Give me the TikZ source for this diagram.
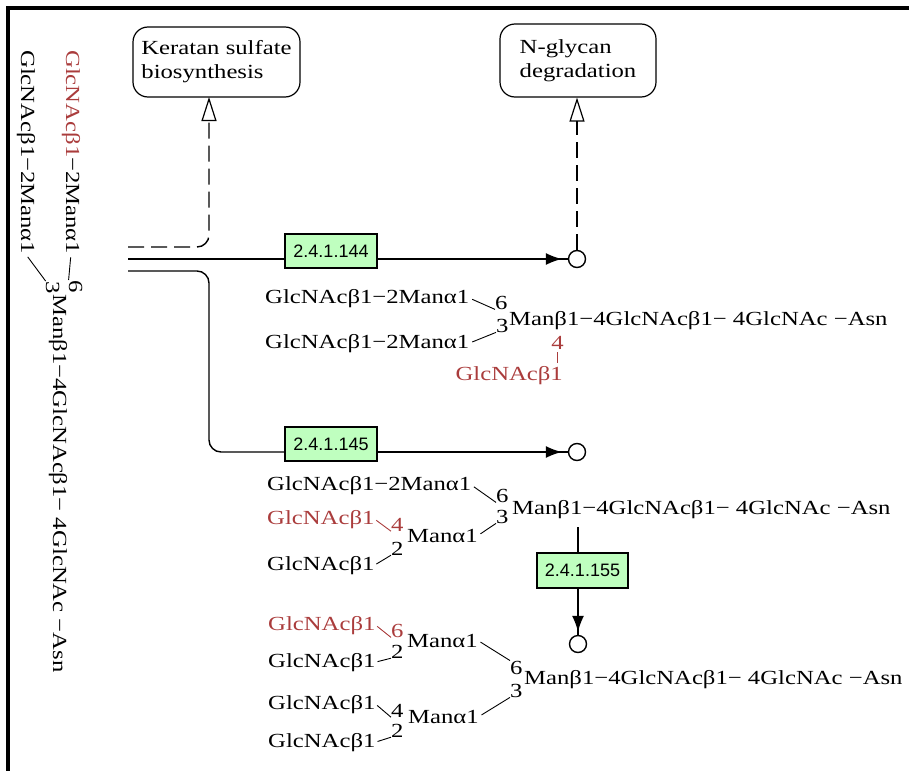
\documentclass[tikz,border=0pt]{standalone}
\usepackage{fontspec}
\setmainfont[FakeStretch=1.235]{Liberation Serif}
\newfontfamily\ecfont{Liberation Sans}
\usetikzlibrary{arrows.meta}
\definecolor{ecgreen}{RGB}{191,255,191}
\definecolor{glyred}{RGB}{170,60,60}

\tikzset{
  glyc/.style={inner sep=0pt, anchor=base west, font=\fontsize{20}{24}\selectfont},
  glycend/.style={glyc, anchor=base east},
  glycmid/.style={glyc, anchor=base},
  redtxt/.style={text=glyred},
  link/.style={line width=0.9pt},
  redlink/.style={link, draw=glyred},
  ecbox/.style={draw, fill=ecgreen, line width=1.2pt, minimum width=92pt,
    minimum height=34pt, inner sep=0pt, font=\ecfont\fontsize{18}{20}\selectfont},
  mapbox/.style={draw, rounded corners=15pt, line width=1.2pt, align=left,
    inner sep=0pt, font=\fontsize{20}{24}\selectfont},
  flow/.style={line width=1.4pt},
  dflow/.style={flow, dash pattern=on 16pt off 7pt},
  cpd/.style={circle, draw, line width=1.4pt, minimum size=17pt, inner sep=0pt, fill=white},
  tipfill/.style={-{Latex[length=16pt,width=12pt]}},
  tipopen/.style={-{Triangle[open,length=24pt,width=15pt,line width=1.2pt]}},
}

\begin{document}
\begin{tikzpicture}[x=1pt,y=-1pt]
\useasboundingbox (0,0) rectangle (909,771);

% frame (top and left edges)
\fill (6,6) rectangle (909,10);
\fill (6,6) rectangle (10,771);

% linked pathway maps
\node[mapbox, minimum width=167pt, minimum height=70pt] (ks) at (216.5,62) {Keratan sulfate\\biosynthesis};
\node[mapbox, minimum width=156pt, minimum height=73pt] (ng) at (578,60.5) {N-glycan\\degradation};

% enzymes and compounds
\node[ecbox] (e144) at (331,251) {2.4.1.144};
\node[ecbox] (e145) at (331,444) {2.4.1.145};
\node[ecbox, minimum width=91pt, minimum height=35pt] (e155) at (582.5,570.5) {2.4.1.155};
\node[cpd] (c1) at (577,259) {};
\node[cpd] (c2) at (577,452) {};
\node[cpd] (c3) at (578,644) {};

\coordinate (kin) at (128,247);
\coordinate (kt) at (209,97);
\coordinate (l1) at (128,259);
\coordinate (l2) at (128,271);
\coordinate (l2d) at (209,452);
\coordinate (v0) at (578,527);

% dashed link to keratan sulfate
\draw[dflow, rounded corners=12pt, tipopen] (kin) -| (kt);

% reaction 2.4.1.144
\draw[flow] (l1) -- (l1 -| e144.west);
\draw[flow] (l1 -| e144.east) -- (c1.west);
\draw[flow, tipfill, shorten >=6pt] (l1 -| e144.east) -- (c1.west);
\draw[dflow, tipopen] (c1.north) -- (c1.north |- ng.south);

% reaction 2.4.1.145
\draw[flow, rounded corners=12pt] (l2) -| (l2d) -- (l2d -| e145.west);
\draw[flow] (l2d -| e145.east) -- (c2.west);
\draw[flow, tipfill, shorten >=6pt] (l2d -| e145.east) -- (c2.west);

% reaction 2.4.1.155
\draw[flow] (v0) -- (v0 |- e155.north);
\draw[flow] (v0 |- e155.south) -- (c3.north);
\draw[flow, tipfill, shorten >=3pt] (v0 |- e155.south) -- (c3.north);

% substrate, written vertically
\begin{scope}[shift={(51,50)}, rotate=-90, transform shape]
  \node[glyc] (v1) at (0,-15) {\textcolor{glyred}{GlcNAcβ1}−2Manα1};
  \node[glyc] (v6) at (230,-18) {6};
  \node[glyc] (v3) at (231,5) {3};
  \node[glyc] (vm) at (244,-2) {Manβ1−4GlcNAcβ1− 4GlcNAc −Asn};
  \node[glyc] (v2) at (0,30) {GlcNAcβ1−2Manα1};
  \draw[link, shorten <=3pt] (v1.east) -- (v6.south west);
  \draw[link, shorten <=3pt] (v2.east) -- (v3.south west);
\end{scope}

% product of 2.4.1.144
\node[glyc] (a1) at (265,303) {GlcNAcβ1−2Manα1};
\node[glyc] (a6) at (495,309) {6};
\node[glyc] (a3) at (496,332) {3};
\node[glyc] (am) at (509,325) {Manβ1−4GlcNAcβ1− 4GlcNAc −Asn};
\node[glyc] (a2) at (265,348) {GlcNAcβ1−2Manα1};
\node[glycmid, redtxt] (a4) at (557.5,349) {4};
\node[glycend, redtxt] (ag) at (563,380) {GlcNAcβ1};
\draw[link, shorten <=3pt] (a1.east) -- (a6.south west);
\draw[link, shorten <=3pt] (a2.east) -- (a3.south west);
\draw[redlink, shorten <=3pt, shorten >=3pt] (a4.south) -- (a4.south |- ag.north);

% product of 2.4.1.145
\node[glyc] (b1) at (267,490) {GlcNAcβ1−2Manα1};
\node[glyc] (b6) at (496,502) {6};
\node[glyc] (bm) at (512,514) {Manβ1−4GlcNAcβ1− 4GlcNAc −Asn};
\node[glyc] (b3) at (496,523) {3};
\node[glyc, redtxt] (bg1) at (267,524) {GlcNAcβ1};
\node[glyc, redtxt] (b4) at (391,531) {4};
\node[glyc] (bma) at (407,542) {Manα1};
\node[glyc] (b2) at (391,555) {2};
\node[glyc] (bg2) at (267,570) {GlcNAcβ1};
\draw[link, shorten <=3pt] (b1.east) -- (b6.south west);
\draw[link, shorten <=3pt] (bma.east) -- (b3.south west);
\draw[redlink, shorten <=2pt] (bg1.east) -- (b4.south west);
\draw[link, shorten <=2pt] (bg2.east) -- (b2.south west);

% product of 2.4.1.155
\node[glyc, redtxt] (cg1) at (268,630) {GlcNAcβ1};
\node[glyc, redtxt] (c6a) at (391,637) {6};
\node[glyc] (cmu) at (407,647) {Manα1};
\node[glyc] (c2a) at (391,658) {2};
\node[glyc] (cg2) at (268,667) {GlcNAcβ1};
\node[glyc] (c6) at (510,674) {6};
\node[glyc] (cm) at (524,684) {Manβ1−4GlcNAcβ1− 4GlcNAc −Asn};
\node[glyc] (c3b) at (510,697) {3};
\node[glyc] (cg3) at (268,709) {GlcNAcβ1};
\node[glyc] (c4) at (391,717) {4};
\node[glyc] (cml) at (408,723) {Manα1};
\node[glyc] (c2b) at (391,737) {2};
\node[glyc] (cg4) at (268,747) {GlcNAcβ1};
\draw[redlink, shorten <=2pt] (cg1.east) -- (c6a.south west);
\draw[link, shorten <=2pt] (cg2.east) -- (c2a.south west);
\draw[link, shorten <=3pt] (cmu.east) -- (c6.north west);
\draw[link, shorten <=3pt] (cml.east) -- (c3b.south west);
\draw[link, shorten <=2pt] (cg3.east) -- (c4.south west);
\draw[link, shorten <=2pt] (cg4.east) -- (c2b.south west);
\end{tikzpicture}
\end{document}
